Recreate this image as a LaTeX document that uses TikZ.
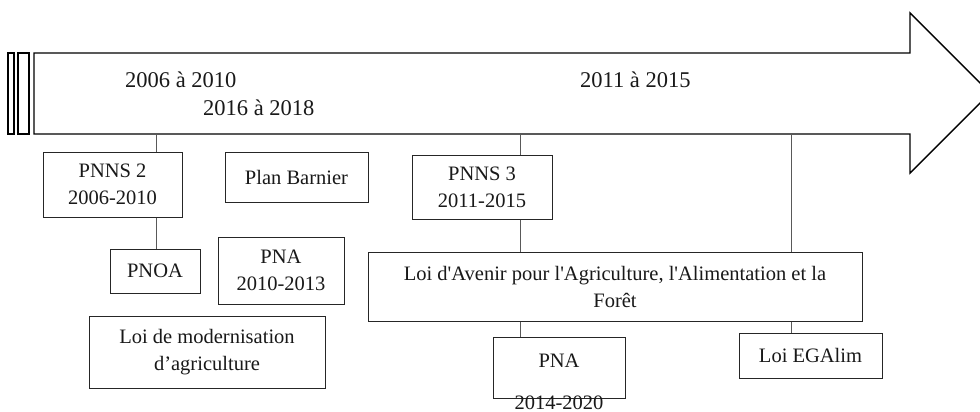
\documentclass[tikz,border=0pt]{standalone}
\usepackage{fontspec}
\setmainfont{Liberation Serif}
\begin{document}
\begin{tikzpicture}[x=1pt,y=-1pt,
  box/.style={draw=black!85, line width=1pt, fill=white, inner sep=0pt, align=center,
    font=\fontsize{20.5}{27}\selectfont, text=black!90},
  yearlbl/.style={inner sep=0pt, font=\fontsize{22.5}{27}\selectfont, text=black!90},
  boxtext/.style={inner sep=0pt, font=\fontsize{20.5}{27}\selectfont, text=black!90},
  conn/.style={draw=black!65, line width=0.9pt},
  bigarrow/.style={draw=black, line width=1.4pt, fill=white, line join=miter}]
\clip (0,0) rectangle (980,412);
\fill[white] (0,0) rectangle (980,412);
% timeline arrow
\coordinate (atl) at (34,53);
\coordinate (abl) at (34,134);
\draw[bigarrow] (atl) -- (910,53) -- (910,13) -- (990,93) -- (910,173) -- (910,134) -- (abl) -- cycle;
\draw[bigarrow] (8,53) rectangle (14,134);
\draw[bigarrow] (18,53) rectangle (29,134);
% year labels
\node[yearlbl, anchor=west] (y1) at (125,80) {2006 à 2010};
\node[yearlbl, anchor=west] (y2) at (203,108) {2016 à 2018};
\node[yearlbl, anchor=west] (y3) at (580,80) {2011 à 2015};
% boxes
\node[box, minimum width=139, minimum height=65] (pnns2) at (112.5,184.5) {PNNS 2\\2006-2010};
\node[box, minimum width=143, minimum height=50] (barnier) at (296.5,177) {Plan Barnier};
\node[box, minimum width=90, minimum height=44] (pnoa) at (155,271) {PNOA};
\node[box, minimum width=126, minimum height=67] (pna1) at (281,270.5) {PNA\\2010-2013};
\node[box, minimum width=236, minimum height=72] (modern) at (207,352) {Loi de modernisation\\d’agriculture};
\node[box, minimum width=140, minimum height=64] (pnns3) at (482,187) {PNNS 3\\2011-2015};
\node[box, minimum width=494, minimum height=69] (avenir) at (615,286.5) {Loi d\textquotesingle Avenir pour l\textquotesingle Agriculture, l\textquotesingle Alimentation et la\\Forêt};
\node[box, minimum width=132, minimum height=61] (pna2) at (559,367.5) {};
\node[boxtext] (pna2a) at (559,361) {PNA};
\node[boxtext] (pna2b) at (559,402.5) {2014-2020};
\node[box, minimum width=143, minimum height=45] (egalim) at (810.5,355.5) {Loi EGAlim};
% connectors
\coordinate (c1) at (156,134);
\coordinate (c2) at (520,134);
\coordinate (c3) at (791,134);
\draw[conn] (c1) -- (c1 |- pnns2.north);
\draw[conn] (c1 |- pnns2.south) -- (c1 |- pnoa.north);
\draw[conn] (c2) -- (c2 |- pnns3.north);
\draw[conn] (c2 |- pnns3.south) -- (c2 |- avenir.north);
\draw[conn] (c2 |- avenir.south) -- (c2 |- pna2.north);
\draw[conn] (c3) -- (c3 |- avenir.north);
\draw[conn] (c3 |- avenir.south) -- (c3 |- egalim.north);
\end{tikzpicture}
\end{document}
